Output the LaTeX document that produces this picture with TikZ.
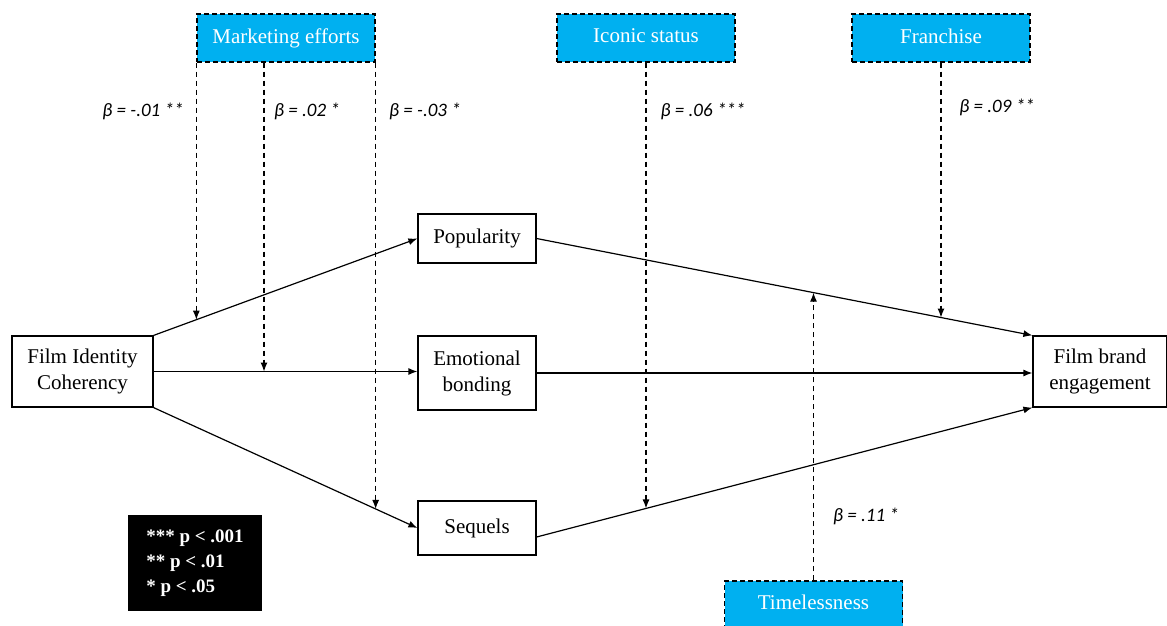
\documentclass[tikz,border=0pt]{standalone}
\usepackage{fontspec}
\setmainfont{Liberation Serif}
\newfontfamily\betafont{Carlito}
\usetikzlibrary{arrows.meta,intersections,calc}
\definecolor{modcyan}{HTML}{00B0F0}
\newcommand{\upt}[1]{\raisebox{4pt}{#1}}
\newcommand{\twolines}[2]{\begin{tabular}{@{}c@{}}#1\\#2\end{tabular}}
\begin{document}
\begin{tikzpicture}[x=1pt,y=-1pt,
  plainbox/.style={draw=black,line width=1.2pt,fill=white,inner sep=2pt,align=center,font=\fontsize{21}{26}\selectfont},
  modbox/.style={draw=black,dashed,dash pattern=on 5pt off 3pt,line width=1.3pt,fill=modcyan,text=white,
     minimum width=178pt,minimum height=48pt,inner sep=0pt,font=\fontsize{21}{26}\selectfont},
  conn/.style={line width=1.2pt,-{Latex[length=9pt,width=7pt]}},
  modarrow/.style={line width=1.2pt,dashed,dash pattern=on 5pt off 4pt,-{Latex[length=9pt,width=7pt]}},
  betalabel/.style={font=\betafont\itshape\fontsize{19}{22}\selectfont,inner sep=0pt}]
\useasboundingbox (0,0) rectangle (1167,626);
\clip (0,0) rectangle (1167,626);
% main nodes
\node[plainbox,minimum width=141pt,minimum height=71pt] (fic) at (82.5,371.5) {\upt{\twolines{Film Identity}{Coherency}}};
\node[plainbox,minimum width=118pt,minimum height=49pt] (pop) at (477,238.5) {\upt{Popularity}};
\node[plainbox,minimum width=118pt,minimum height=74pt] (emo) at (477,373) {\upt{\twolines{Emotional}{bonding}}};
\node[plainbox,minimum width=118pt,minimum height=54pt] (seq) at (477,528) {\upt{Sequels}};
\node[plainbox,minimum width=134pt,minimum height=71pt] (fbe) at (1100,371.5) {\upt{\twolines{Film brand}{engagement}}};
% moderator boxes
\node[modbox] (mkt) at (286,38) {\upt{Marketing efforts}};
\node[modbox] (ico) at (646,38) {\upt{Iconic status}};
\node[modbox] (fra) at (941,38) {\upt{Franchise}};
\node[modbox] (tim) at (813.5,605) {\raisebox{6pt}{Timelessness}};
% legend
\node[fill=black,text=white,minimum width=134pt,minimum height=96pt,align=left,inner sep=0pt,
  font=\bfseries\fontsize{19}{25}\selectfont] (legend) at (195,563) {*** p < .001\\** p < .01\\* p < .05};
% main connectors
\draw[conn,name path=l1] (fic.north east) -- (pop.west);
\draw[conn,name path=l2] (fic.east) -- (fic.east -| emo.west);
\draw[conn,name path=l3] (fic.south east) -- (seq.west);
\draw[conn,name path=r1] (pop.east) -- (fbe.north west);
\draw[conn] (emo.east) -- (emo.east -| fbe.west);
\draw[conn,name path=r3] ([yshift=-9pt]seq.east) -- (fbe.south west);
% vertical guide paths
\path[name path=v1] (mkt.south west) -- ++(0,500);
\path[name path=v2] ([xshift=-22pt]mkt.south) -- ++(0,500);
\path[name path=v3] (mkt.south east) -- ++(0,500);
\path[name path=v4] (ico.south) -- ++(0,500);
\path[name path=v5] (fra.south) -- ++(0,500);
\path[name path=v6] (tim.north) -- ++(0,-500);
\path[name intersections={of=v1 and l1,by=m1}];
\path[name intersections={of=v2 and l2,by=m2}];
\path[name intersections={of=v3 and l3,by=m3}];
\path[name intersections={of=v4 and r3,by=m4}];
\path[name intersections={of=v5 and r1,by=m5}];
\path[name intersections={of=v6 and r1,by=m6}];
\draw[modarrow] (mkt.south west) -- (m1);
\draw[modarrow] ([xshift=-22pt]mkt.south) -- (m2);
\draw[modarrow] (mkt.south east) -- (m3);
\draw[modarrow] (ico.south) -- (m4);
\draw[modarrow] (fra.south) -- (m5);
\draw[modarrow] (tim.north) -- (m6);
% beta labels
\node[betalabel] (b1) at (143,111) {β = -.01 **};
\node[betalabel] (b2) at (307,111) {β = .02 *};
\node[betalabel] (b3) at (425,111) {β = -.03 *};
\node[betalabel] (b4) at (703,111) {β = .06 ***};
\node[betalabel] (b5) at (997,107) {β = .09 **};
\node[betalabel] (b6) at (866,516) {β = .11 *};
\end{tikzpicture}
\end{document}
